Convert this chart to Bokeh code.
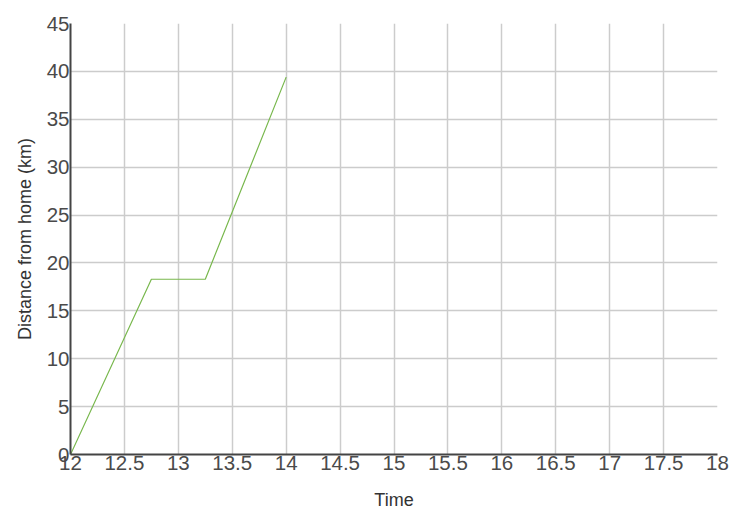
from bokeh.plotting import figure
from bokeh.models import Range1d, FixedTicker
from bokeh.embed import file_html
from bokeh.resources import INLINE

time = [12, 12.75, 13.25, 14]
distance = [0, 18.3, 18.3, 39.4]
x_ticks = [12, 12.5, 13, 13.5, 14, 14.5, 15, 15.5, 16, 16.5, 17, 17.5, 18]
y_ticks = [0, 5, 10, 15, 20, 25, 30, 35, 40, 45]

p = figure(width=732, height=512, output_backend="svg", toolbar_location=None,
           x_range=Range1d(12, 18), y_range=Range1d(0, 45),
           min_border_left=70, min_border_right=15, min_border_top=23, min_border_bottom=57)
p.outline_line_color = None
p.background_fill_color = "white"
p.border_fill_color = "white"

p.line(time, distance, line_color="#79b84e", line_width=1.2)

for ax in (p.xaxis[0], p.yaxis[0]):
    ax.major_label_text_font = "Liberation Sans"
    ax.major_label_text_font_size = "20.5px"
    ax.major_label_text_color = "#4a4a4a"
    ax.axis_label_text_font = "Liberation Sans"
    ax.axis_label_text_font_size = "18px"
    ax.axis_label_text_font_style = "normal"
    ax.axis_label_text_color = "#333333"
    ax.axis_line_color = "#444444"
    ax.axis_line_width = 2
    ax.major_tick_line_color = None
    ax.minor_tick_line_color = None
    ax.major_tick_out = 0
    ax.major_tick_in = 0
    ax.major_label_standoff = 1

p.xaxis.ticker = FixedTicker(ticks=x_ticks)
p.yaxis.ticker = FixedTicker(ticks=y_ticks)
p.xaxis.axis_label = "Time"
p.yaxis.axis_label = "Distance from home (km)"
p.xaxis.axis_label_standoff = 17
p.yaxis.axis_label_standoff = 9

p.xgrid.ticker = FixedTicker(ticks=x_ticks)
p.ygrid.ticker = FixedTicker(ticks=y_ticks)
p.grid.grid_line_color = "#cccccc"
p.grid.grid_line_width = 1.5
p.grid.grid_line_alpha = 1

open("out.html", "w").write(file_html(p, INLINE))
